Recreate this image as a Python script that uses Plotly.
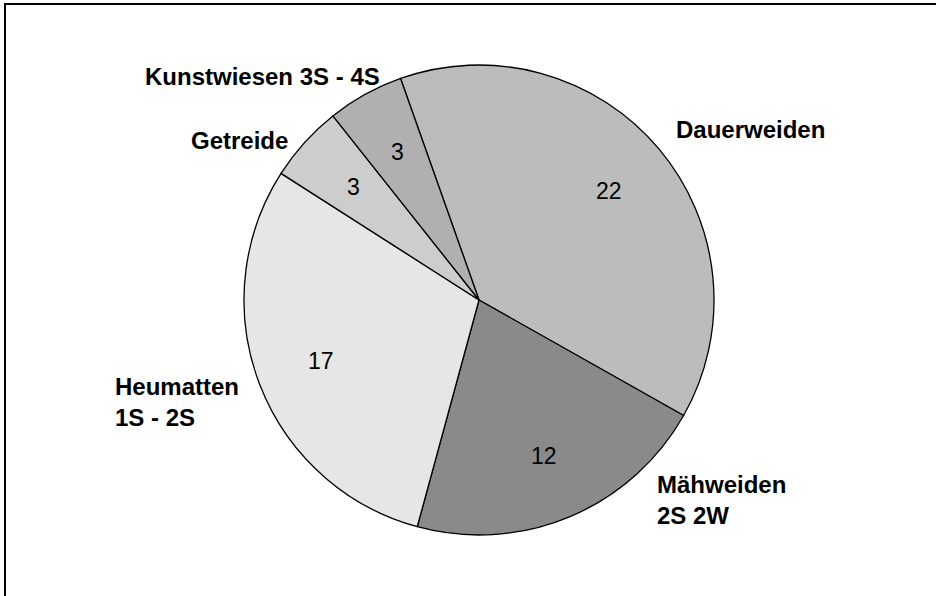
import math
import plotly.graph_objects as go

# Flächenanteile nach Nutzungsart
kategorien = ["Dauerweiden", "Mähweiden<br>2S 2W", "Heumatten<br>1S - 2S", "Getreide", "Kunstwiesen 3S - 4S"]
werte = [22, 12, 17, 3, 3]
farben = ["#bcbcbc", "#8a8a8a", "#e6e6e6", "#cdcdcd", "#b0b0b0"]

W, H = 936, 596
cx, cy, r = 479, 300, 235
start = -19.5  # Grad, Start der ersten Scheibe (im Uhrzeigersinn ab 12 Uhr)

fig = go.Figure()
fig.add_trace(go.Pie(
    labels=kategorien,
    values=werte,
    sort=False,
    direction="clockwise",
    rotation=start,
    marker=dict(colors=farben, line=dict(color="black", width=1.3)),
    textinfo="none",
    domain=dict(x=[(cx - r) / W, (cx + r) / W], y=[1 - (cy + r) / H, 1 - (cy - r) / H]),
    showlegend=False,
    hoverinfo="label+value",
))

# Wertebeschriftung in der Scheibe (aus den Werten berechnet)
summe = sum(werte)
kum = 0
for v in werte:
    mitte = math.radians(start + (kum + v / 2) / summe * 360)
    kum += v
    fig.add_annotation(
        x=(cx + 0.72 * r * math.sin(mitte)) / W,
        y=1 - (cy - 0.72 * r * math.cos(mitte)) / H,
        xref="paper", yref="paper", text=str(v), showarrow=False,
        xanchor="center", yanchor="middle",
        font=dict(family="Liberation Sans, Arial", size=23, color="black"),
    )

# Kategorienbeschriftung außerhalb (Position in Pixeln der Vorlage)
beschriftung = [
    ("Dauerweiden", 750, 130, "center"),
    ("Mähweiden<br>2S 2W", 655, 500, "left"),
    ("Heumatten<br>1S - 2S", 113, 402, "left"),
    ("Getreide", 240, 140, "center"),
    ("Kunstwiesen 3S - 4S", 262, 77, "center"),
]
for txt, x, y, al in beschriftung:
    fig.add_annotation(
        x=x / W, y=1 - y / H, xref="paper", yref="paper",
        text="<b>" + txt + "</b>", showarrow=False,
        xanchor=al, yanchor="middle", align="left",
        font=dict(family="Liberation Sans, Arial", size=24, color="black"),
    )

# Rahmen
fig.add_shape(type="rect", xref="paper", yref="paper",
              x0=5 / W, x1=1.02, y0=-0.02, y1=1 - 4 / H,
              line=dict(color="black", width=2))

fig.update_layout(
    width=W, height=H,
    margin=dict(l=0, r=0, t=0, b=0),
    paper_bgcolor="white",
    plot_bgcolor="white",
)

fig.write_html("out.html", config={"displayModeBar": False},
               post_script="document.body.style.margin='0px';")
